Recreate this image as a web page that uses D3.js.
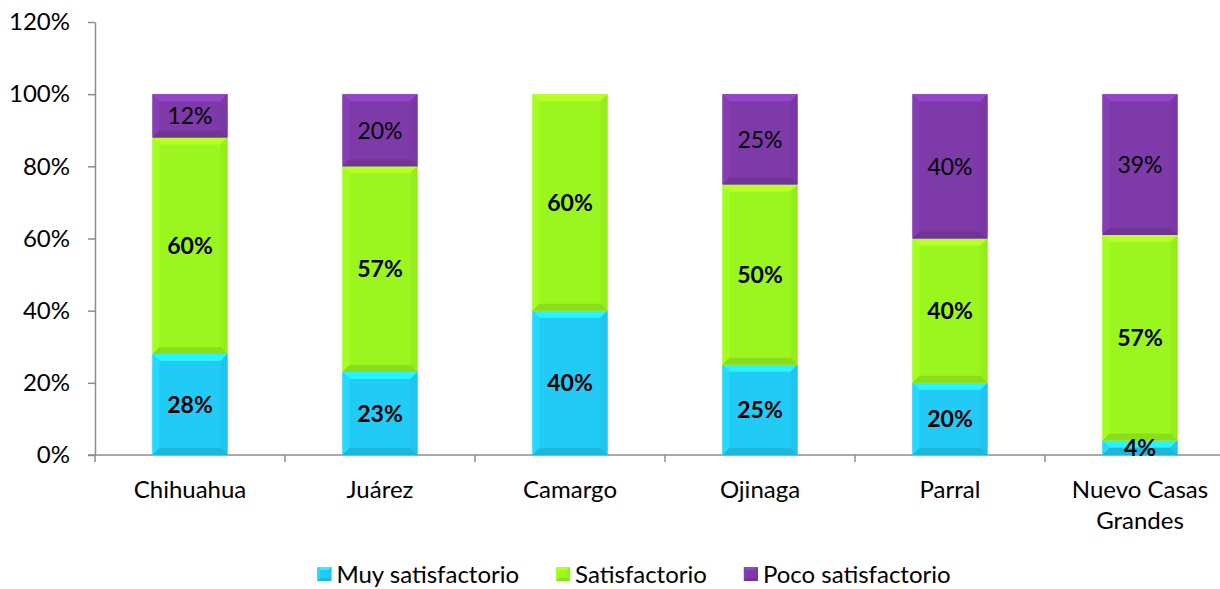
<!DOCTYPE html>
<html>
<head>
<meta charset="utf-8">
<script src="https://cdn.jsdelivr.net/npm/d3@7"></script>
<style>
  body { margin: 0; background: #fff; }
  svg { display: block; font-family: Lato, "Open Sans", sans-serif; }
</style>
</head>
<body>
<script>
// data
const categories = ["Chihuahua", "Juárez", "Camargo", "Ojinaga", "Parral", "Nuevo Casas Grandes"];
const muySatisfactorio = [28, 23, 40, 25, 20, 4];
const satisfactorio = [60, 57, 60, 50, 40, 57];
const pocoSatisfactorio = [12, 20, 0, 25, 40, 39];
const yTicks = [0, 20, 40, 60, 80, 100, 120];

const seriesNames = ["Muy satisfactorio", "Satisfactorio", "Poco satisfactorio"];
const seriesColors = ["#22cbf5", "#9af61e", "#7d3aa8"];
const seriesBold = [true, true, false];

makeChart();

function makeChart() {
    const width = 1220;
    const height = 589;

    const svg = d3.select("body").append("svg")
        .attr("width", width)
        .attr("height", height);

    // rows for the stack
    const rows = categories.map((c, i) => ({
        cat: c,
        [seriesNames[0]]: muySatisfactorio[i],
        [seriesNames[1]]: satisfactorio[i],
        [seriesNames[2]]: pocoSatisfactorio[i]
    }));
    const stacked = d3.stack().keys(seriesNames)(rows);

    const x = d3.scaleBand()
        .domain(categories)
        .range([95, 1235])
        .paddingInner(0.605)
        .paddingOuter(0.3025);

    const y = d3.scaleLinear().domain([0, 120]).range([455, 22]);

    const axisColor = "#8c8c8c";

    // y axis
    const yAxis = svg.append("g")
        .attr("transform", "translate(95,0)")
        .call(d3.axisLeft(y).tickValues(yTicks).tickFormat(d => d + "%").tickSize(7).tickSizeOuter(0).tickPadding(18));
    yAxis.select(".domain").attr("stroke", axisColor).attr("stroke-width", 1.5);
    yAxis.selectAll(".tick line").attr("stroke", axisColor).attr("stroke-width", 1.5);
    yAxis.selectAll(".tick text").attr("font-size", 24).attr("fill", "#000").attr("font-family", "Lato");

    // x axis baseline and boundary ticks
    const xAxisG = svg.append("g");
    xAxisG.append("line")
        .attr("x1", 88).attr("x2", width)
        .attr("y1", y(0)).attr("y2", y(0))
        .attr("stroke", axisColor).attr("stroke-width", 1.5);
    xAxisG.selectAll("line.tk")
        .data(categories.map((c, i) => x.range()[0] + i * x.step()))
        .join("line")
        .attr("class", "tk")
        .attr("x1", d => d).attr("x2", d => d)
        .attr("y1", y(0)).attr("y2", y(0) + 7)
        .attr("stroke", axisColor).attr("stroke-width", 1.5);

    // category labels (wrap long one)
    const labels = svg.append("g").selectAll("text")
        .data(categories)
        .join("text")
        .attr("x", d => x(d) + x.bandwidth() / 2)
        .attr("y", 498)
        .attr("text-anchor", "middle")
        .attr("font-size", 24)
        .attr("fill", "#000");
    labels.each(function (d) {
        const t = d3.select(this);
        const words = d === "Nuevo Casas Grandes" ? ["Nuevo Casas", "Grandes"] : [d];
        words.forEach((w, i) => {
            t.append("tspan").attr("x", x(d) + x.bandwidth() / 2).attr("dy", i === 0 ? 0 : 31).text(w);
        });
    });

    // bevelled bars
    const bw = x.bandwidth();
    const barsG = svg.append("g");

    stacked.forEach((layer, si) => {
        layer.forEach((seg, ci) => {
            const v = seg[1] - seg[0];
            if (v <= 0) return;
            const x0 = x(categories[ci]);
            const y0 = y(seg[1]);
            const h = y(seg[0]) - y(seg[1]);
            drawBevel(barsG, x0, y0, bw, h, seriesColors[si]);
        });
    });

    // value labels
    stacked.forEach((layer, si) => {
        svg.append("g").selectAll("text")
            .data(layer.filter(s => s[1] - s[0] > 0))
            .join("text")
            .attr("x", (s) => x(s.data.cat) + bw / 2)
            .attr("y", s => (y(s[0]) + y(s[1])) / 2)
            .attr("dy", "0.36em")
            .attr("text-anchor", "middle")
            .attr("font-size", 23)
            .attr("font-weight", seriesBold[si] ? "bold" : "normal")
            .attr("fill", "#000")
            .text(s => (s[1] - s[0]) + "%");
    });

    // legend
    const legend = svg.append("g").attr("transform", "translate(0,574)");
    const items = [];
    seriesNames.forEach((n, i) => {
        const g = legend.append("g");
        drawBevel(g, 0, -7, 14, 14, seriesColors[i], 3);
        g.append("text").attr("x", 19).attr("y", 0).attr("dy", "0.36em")
            .attr("font-size", 24).attr("fill", "#000").text(n);
        items.push(g);
    });
    const gap = 37;
    const widths = items.map(g => g.node().getBBox().width);
    const total = d3.sum(widths) + gap * (items.length - 1);
    let cx = 634 - total / 2;
    items.forEach((g, i) => {
        g.attr("transform", `translate(${cx},0)`);
        cx += widths[i] + gap;
    });

    return svg.node();
}

// rect with a simple bevel: light top/left, dark bottom/right
function drawBevel(g, x0, y0, w, h, color, size) {
    const b = Math.min(size || 7, h / 2, w / 2);
    const x1 = x0 + w, y1 = y0 + h;
    g.append("rect").attr("x", x0).attr("y", y0).attr("width", w).attr("height", h).attr("fill", color);
    const c = d3.color(color);
    const poly = (pts, fill) => g.append("polygon").attr("points", pts.map(p => p.join(",")).join(" ")).attr("fill", fill);
    poly([[x0, y0], [x1, y0], [x1 - b, y0 + b], [x0 + b, y0 + b]], c.brighter(0.5));
    poly([[x0, y0], [x0 + b, y0 + b], [x0 + b, y1 - b], [x0, y1]], c.brighter(0.18));
    poly([[x1, y0], [x1, y1], [x1 - b, y1 - b], [x1 - b, y0 + b]], c.darker(0.1));
    poly([[x0, y1], [x0 + b, y1 - b], [x1 - b, y1 - b], [x1, y1]], c.darker(0.3));
}
</script>
</body>
</html>
